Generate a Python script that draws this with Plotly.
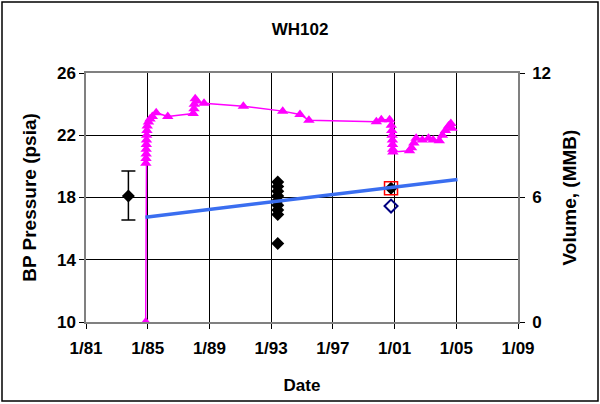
import datetime as dt
import plotly.graph_objects as go

# ---------------- data (decimal years, psia / MMB) ----------------
pink_years = [1984.87, 1984.88, 1984.89, 1984.90, 1984.90, 1984.91, 1984.92, 1984.93,
              1984.95, 1984.97, 1985.05, 1985.15, 1985.30, 1985.55, 1986.30, 1987.95,
              1988.00, 1988.02, 1988.08, 1988.18, 1988.65, 1991.20, 1993.75, 1994.87,
              1995.45, 1999.82, 2000.14, 2000.68, 2000.79, 2000.82, 2000.84, 2000.86,
              2000.87, 2000.88, 2000.89, 2001.97, 2002.10, 2002.25, 2002.40, 2002.80,
              2003.20, 2003.50, 2003.90, 2004.10, 2004.30, 2004.50, 2004.65, 2004.72]
pink_psi = [10.0, 20.2, 20.5, 20.8, 21.1, 21.4, 21.7, 22.0,
            22.3, 22.6, 22.85, 23.05, 23.2, 23.45, 23.2, 23.4,
            23.7, 24.0, 24.35, 24.2, 24.05, 23.87, 23.55, 23.34,
            22.97, 22.86, 23.0, 23.0, 22.65, 22.3, 22.0, 21.7,
            21.4, 21.1, 20.92, 21.0, 21.2, 21.5, 21.8, 21.7,
            21.8, 21.7, 21.65, 22.0, 22.3, 22.6, 22.75, 22.45]

diamond_years = [1993.43] * 9
diamond_psi = [19.0, 18.7, 18.4, 18.1, 17.8, 17.5, 17.2, 16.9, 15.05]

err_year = [1983.75]
err_psi = [18.1]
err_plus = [1.6]
err_minus = [1.55]

red_year = [2000.77]
red_psi = [18.6]

open_year = [2000.77]
open_psi = [17.45]

volume_years = [1984.85, 2005.08]
volume_mmb = [5.05, 6.87]

x_ticks = ["1981-01-01", "1985-01-01", "1989-01-01", "1993-01-01",
           "1997-01-01", "2001-01-01", "2005-01-01", "2009-01-01"]
x_tick_labels = ["1/81", "1/85", "1/89", "1/93", "1/97", "1/01", "1/05", "1/09"]


def to_date(y):
    year = int(y)
    start = dt.datetime(year, 1, 1)
    end = dt.datetime(year + 1, 1, 1)
    return (start + (end - start) * (y - year)).strftime("%Y-%m-%d %H:%M")


FONT = "Arial, Liberation Sans, sans-serif"
fs = 17
fs_side = 19

fig = go.Figure()

fig.add_trace(go.Scatter(
    x=[to_date(v) for v in pink_years], y=pink_psi, mode="lines+markers",
    line=dict(color="#FF00FF", width=1.5),
    marker=dict(symbol="triangle-up", size=10, color="#FF00FF"),
    name="BP pressure"))

fig.add_trace(go.Scatter(
    x=[to_date(v) for v in volume_years], y=volume_mmb, mode="lines",
    line=dict(color="#3A6EF0", width=3.5), yaxis="y2", name="Volume"))

fig.add_trace(go.Scatter(
    x=[to_date(v) for v in diamond_years], y=diamond_psi, mode="markers",
    marker=dict(symbol="diamond", size=10, color="black"), name="Measured"))

fig.add_trace(go.Scatter(
    x=[to_date(v) for v in err_year], y=err_psi, mode="markers",
    marker=dict(symbol="diamond", size=10, color="black"),
    error_y=dict(type="data", array=err_plus, arrayminus=err_minus,
                 color="black", thickness=1.5, width=7),
    name="Initial"))

fig.add_trace(go.Scatter(
    x=[to_date(v) for v in red_year], y=red_psi, mode="markers",
    marker=dict(symbol="diamond", size=10, color="black"), name="2001"))

fig.add_trace(go.Scatter(
    x=[to_date(v) for v in red_year], y=red_psi, mode="markers",
    marker=dict(symbol="square-open", size=13, color="red", line=dict(width=1.5)),
    name="2001 box"))

fig.add_trace(go.Scatter(
    x=[to_date(v) for v in open_year], y=open_psi, mode="markers",
    marker=dict(symbol="diamond-open", size=10, color="#000080", line=dict(width=2)),
    name="2001 open"))

L, R, T, B = 86, 82, 73, 82
W, H = 600, 404
pw, ph = W - L - R, H - T - B

fig.update_layout(
    width=W, height=H,
    margin=dict(l=L, r=R, t=T, b=B),
    paper_bgcolor="white", plot_bgcolor="white",
    showlegend=False,
    font=dict(family=FONT, size=fs, color="black"),
    title=dict(text="<b>WH102</b>", x=0.5, xanchor="center", y=1 - 29 / H,
               yanchor="middle", font=dict(size=fs)),
    xaxis=dict(
        type="date", range=["1981-01-01", "2009-01-01"],
        tickvals=x_ticks, ticktext=["<b>%s</b>" % t for t in x_tick_labels],
        ticks="outside", ticklen=5, tickcolor="black", ticklabelstandoff=5,
        showgrid=True, gridcolor="#000000", gridwidth=1,
        showline=True, linecolor="#808080", linewidth=1.5, mirror=True,
        zeroline=False,
        title=dict(text="<b>Date</b>", standoff=22, font=dict(size=fs)),
    ),
    yaxis=dict(
        range=[10, 26], tickvals=[10, 14, 18, 22, 26],
        ticktext=["<b>%d</b>" % v for v in [10, 14, 18, 22, 26]],
        ticks="outside", ticklen=5, tickcolor="black",
        showgrid=True, gridcolor="#000000", gridwidth=1,
        showline=True, linecolor="#808080", linewidth=1.5, mirror=True,
        zeroline=False,
        title=dict(text="<b>BP Pressure (psia)</b>", standoff=15, font=dict(size=fs_side)),
    ),
    yaxis2=dict(
        overlaying="y", side="right", range=[0, 12], tickvals=[0, 6, 12],
        ticktext=["<b>%d</b>" % v for v in [0, 6, 12]],
        ticks="outside", ticklen=5, tickcolor="black", ticklabelstandoff=4,
        showgrid=False, showline=True, linecolor="#808080", linewidth=1.5,
        zeroline=False,
        title=dict(text="<b>Volume, (MMB)</b>", standoff=13, font=dict(size=fs_side)),
    ),
)

fig.add_shape(type="rect", xref="paper", yref="paper",
              x0=(2 - L) / pw, x1=(598 - L) / pw,
              y0=(T + ph - 401) / ph, y1=(T + ph - 2) / ph,
              line=dict(color="black", width=1.5), layer="above")

fig.write_html("out.html", config={"displayModeBar": False},
               post_script="document.body.style.margin='0';")
